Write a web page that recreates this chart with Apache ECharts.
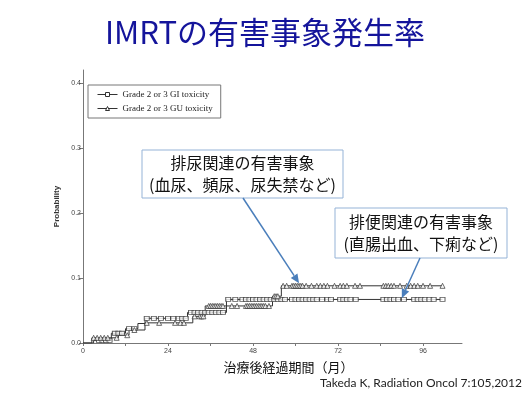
<!DOCTYPE html>
<html>
<head>
<meta charset="utf-8">
<script src="https://cdn.jsdelivr.net/npm/echarts@6/dist/echarts.min.js"></script>
<style>
  html, body { margin: 0; padding: 0; background: #fff; }
  #main { width: 530px; height: 398px; }
</style>
</head>
<body>
<div id="main"></div>
<script>
// 月数（治療後経過期間）と累積発生率
var giTimes = [0, 3, 8, 12, 15.5, 17.5, 29.5, 40.5, 101.5];
var giProb  = [0, 0.004, 0.015, 0.022, 0.030, 0.038, 0.047, 0.067, 0.067];
var guTimes = [0, 2.5, 10, 13, 17.5, 31, 34.5, 53.5, 56, 101.5];
var guProb  = [0, 0.008, 0.012, 0.020, 0.031, 0.041, 0.057, 0.072, 0.088, 0.088];

// 打ち切り（マーカー）の時点
var giCensor = [4.5, 5.5, 6.5, 7.5, 9, 10, 11, 13, 14.5, 18, 20, 22, 24, 25.5, 27, 28, 29,
  30.5, 31.5, 32.5, 33.5, 34.5, 35.5, 36.5, 37.5, 38.5, 39.5, 41, 43, 45, 46, 47, 48, 49,
  50, 51, 52, 53, 54, 55, 56, 57, 59, 60, 61, 62, 63, 64, 65, 66, 67.5, 69, 70,
  72.6, 73.5, 74.5, 75.5, 77, 84.8, 85.8, 86.8, 87.8, 89, 90.6, 93.5, 94.5, 95.5, 96.5,
  97.8, 99, 101.5];
var guCensor = [3, 4, 5, 6, 7, 9.5, 12.5, 14.5, 18, 21.5, 26, 27.5, 28.5, 31.5, 33, 33.5, 34,
  35.5, 36, 36.5, 37, 37.5, 38, 38.5, 39, 39.5, 42, 43.5, 46, 46.5, 47, 47.5, 48, 48.5,
  49, 49.5, 50, 50.5, 51, 51.5, 52.5, 54, 54.5, 55, 56.5, 57.5, 59, 59.5, 60, 60.5, 61,
  61.5, 62, 63, 64.5, 66, 67, 68, 69, 71, 72.6, 73.5, 74.5, 76.8, 78.2, 84.8, 85.5, 86.2,
  87, 87.8, 89.5, 91.4, 92.5, 93.5, 94.5, 96, 98, 101.5];

var xTicks = [0, 12, 24, 36, 48, 60, 72, 84, 96];
var xLabels = [0, 24, 48, 72, 96];
var yTicks = [0, 0.1, 0.2, 0.3, 0.4];

var nameGI = 'Grade 2 or 3 GI toxicity';
var nameGU = 'Grade 2 or 3 GU toxicity';

function stepAt(times, probs, t) {
  var v = probs[0];
  for (var i = 0; i < times.length; i++) {
    if (times[i] <= t) v = probs[i];
  }
  return v;
}
function pairs(times, probs) {
  return times.map(function (t, i) { return [t, probs[i]]; });
}
function marks(censor, times, probs) {
  return censor.map(function (t) { return [t, stepAt(times, probs, t)]; });
}

var myChart = echarts.init(document.getElementById('main'));
var ink = '#333';
var lineStyle = { color: ink, width: 1 };
var markStyle = { color: '#fff', borderColor: ink, borderWidth: 0.9 };

myChart.setOption({
  animation: false,
  backgroundColor: '#fff',
  title: {
    text: 'IMRTの有害事象発生率',
    left: 'center',
    top: 12,
    textStyle: { fontFamily: 'Noto Sans CJK JP', fontSize: 31, fontWeight: 'normal', color: '#14149b' }
  },
  legend: {
    data: [
      { name: nameGI, itemStyle: { color: '#fff', borderColor: ink, borderWidth: 1 } },
      { name: nameGU, itemStyle: { color: '#fff', borderColor: ink, borderWidth: 1 } }
    ],
    orient: 'vertical',
    left: 88,
    top: 85,
    selectedMode: false,
    borderColor: '#777',
    borderWidth: 1,
    padding: [5, 8, 5, 9],
    itemGap: 5,
    itemWidth: 20,
    itemHeight: 5,
    lineStyle: { width: 1 },
    textStyle: { fontFamily: 'Liberation Serif', fontSize: 9, color: '#222' }
  },
  grid: { left: 83, right: 68, top: 70, bottom: 55 },
  xAxis: {
    type: 'value',
    min: 0,
    max: 107,
    name: '治療後経過期間（月）',
    nameLocation: 'middle',
    nameGap: 18,
    nameTextStyle: { fontFamily: 'Noto Sans CJK JP', fontSize: 13, color: '#111', padding: [0, 0, 0, 32] },
    splitLine: { show: false },
    axisLine: { lineStyle: { color: '#777' } },
    axisTick: { customValues: xTicks, length: 3, lineStyle: { color: '#777' } },
    axisLabel: { customValues: xLabels, fontSize: 7, color: '#444', margin: 5 }
  },
  yAxis: {
    type: 'value',
    min: 0,
    max: 0.42,
    name: 'Probability',
    nameLocation: 'middle',
    nameGap: 19,
    nameRotate: 90,
    nameTextStyle: { fontFamily: 'Liberation Sans', fontSize: 8, fontWeight: 'bold', color: '#333' },
    splitLine: { show: false },
    axisLine: { show: true, lineStyle: { color: '#777' } },
    axisTick: { show: true, customValues: yTicks, length: 4, lineStyle: { color: '#777' } },
    axisLabel: {
      customValues: yTicks, fontSize: 7, color: '#444', margin: 2,
      formatter: function (v) { return v.toFixed(1); }
    }
  },
  series: [
    {
      name: nameGI, type: 'line', step: 'end', data: pairs(giTimes, giProb),
      symbol: 'rect', symbolSize: [5, 4], showSymbol: false,
      lineStyle: lineStyle, itemStyle: markStyle
    },
    {
      name: nameGU, type: 'line', step: 'end', data: pairs(guTimes, guProb),
      symbol: 'triangle', symbolSize: 5, showSymbol: false,
      lineStyle: lineStyle, itemStyle: markStyle
    },
    {
      name: nameGI, type: 'scatter', data: marks(giCensor, giTimes, giProb),
      symbol: 'rect', symbolSize: [5, 4], itemStyle: markStyle, z: 3
    },
    {
      name: nameGU, type: 'scatter', data: marks(guCensor, guTimes, guProb),
      symbol: 'triangle', symbolSize: 5, itemStyle: markStyle, z: 3
    }
  ]
});

// 吹き出しと矢印
function arrow(from, to) {
  var dx = to[0] - from[0], dy = to[1] - from[1];
  var len = Math.sqrt(dx * dx + dy * dy);
  var ux = dx / len, uy = dy / len;
  var hl = 9, hw = 4;
  var bx = to[0] - ux * hl, by = to[1] - uy * hl;
  return [
    { type: 'line', shape: { x1: from[0], y1: from[1], x2: bx, y2: by },
      style: { stroke: '#4a7ebb', lineWidth: 1.5 }, z: 20 },
    { type: 'polygon', shape: { points: [to, [bx - uy * hw, by + ux * hw], [bx + uy * hw, by - ux * hw]] },
      style: { fill: '#4a7ebb' }, z: 20 }
  ];
}
function callout(x, y, w, h, lines) {
  return {
    type: 'group', z: 15,
    children: [
      { type: 'rect', shape: { x: x, y: y, width: w, height: h },
        style: { fill: '#fff', stroke: '#95b3d7', lineWidth: 1 } },
      { type: 'text', x: x + w / 2, y: y + h / 2,
        style: { text: lines.join('\n'), fontFamily: 'Noto Sans CJK JP', fontSize: 16,
          lineHeight: 22, fill: '#111', align: 'center', verticalAlign: 'middle' } }
    ]
  };
}

var tipUrine = myChart.convertToPixel({ gridIndex: 0 }, [61, 0.092]);
var tipBowel = myChart.convertToPixel({ gridIndex: 0 }, [90, 0.069]);

var graphics = [
  callout(142, 150, 201, 48, ['排尿関連の有害事象', '(血尿、頻尿、尿失禁など)']),
  callout(335, 208, 172, 50, ['排便関連の有害事象', '(直腸出血、下痢など)'])
]
  .concat(arrow([243, 198], tipUrine))
  .concat(arrow([420, 258], tipBowel));

graphics.push({
  type: 'text', right: 8, top: 377,
  style: { text: 'Takeda K, Radiation Oncol 7:105,2012', fontFamily: 'Lato', fontSize: 12, fill: '#222' }
});

myChart.setOption({ graphic: graphics });
</script>
</body>
</html>
